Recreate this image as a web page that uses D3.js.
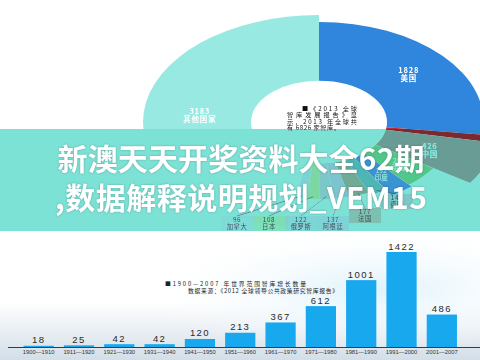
<!DOCTYPE html>
<html>
<head>
<meta charset="utf-8">
<script src="https://cdn.jsdelivr.net/npm/d3@7"></script>
<style>
html, body { margin: 0; padding: 0; background: #fff; }
svg { display: block; font-family: "Noto Sans CJK SC", "Noto Sans", sans-serif; }
</style>
</head>
<body>
<svg id="chart" width="480" height="360"></svg>
<script>
// 2013 年各国智库数量（饼图，顺时针从 12 点开始）
const countries = ["美国", "", "中国", "英国", "印度", "德国", "法国", "阿根廷", "俄罗斯", "日本", "加拿大", "其他国家"];
const thinkTanks = [1828, 70, 426, 287, 192, 144, 177, 137, 122, 108, 96, 3183];

// 1900—2007 年世界范围智库增长数量（柱状图）
const periods = ["1900—1910", "1911—1920", "1921—1930", "1931—1940", "1941—1950", "1951—1960",
                 "1961—1970", "1971—1980", "1981—1990", "1991—2000", "2001—2007"];
const growth = [18, 25, 42, 42, 120, 213, 367, 612, 1001, 1422, 486];

const noteLines = ["■《2013 全球", "智库发展报告》显", "示，2013 年全球共", "有 6826 家智库。"];
const legendLines = ["■1900—2007 年世界范围智库增长数量", "数据来源：《2012 全球领导公共政策研究智库报告》"];
const bannerLines = ["新澳天天开奖资料大全62期", ",数据解释说明规划_VEM15"];

// styles
const sliceColor = ["#2f86dc", "#c3282e", "#6a9c96", "#52c78a", "#3a94d2", "#4db5b4",
                    "#70ab98", "#8cc4d0", "#7cc8c8", "#7bd8a4", "#86d2d8", "#98e9e1"];
const sliceReach = [0.935, 0.95, 1.03, 0.78, 0.8, 0.74, 0.72, 0.72, 0.72, 0.72, 0.72, 1];

const svg = d3.select("#chart");
const defs = svg.append("defs");

defs.append("clipPath").attr("id", "topClip")
  .append("rect").attr("x", 0).attr("y", 0).attr("width", 480).attr("height", 231);

let grad = defs.append("linearGradient").attr("id", "floor")
  .attr("x1", 0).attr("y1", 0).attr("x2", 0).attr("y2", 1);
grad.append("stop").attr("offset", "0.55").attr("stop-color", "#ffffff");
grad.append("stop").attr("offset", "1").attr("stop-color", "#d3dee8");

let glow = defs.append("radialGradient").attr("id", "glow")
  .attr("cx", 0.78).attr("cy", 0.45).attr("r", 0.5);
glow.append("stop").attr("offset", "0").attr("stop-color", "#dff2fb");
glow.append("stop").attr("offset", "1").attr("stop-color", "#ffffff").attr("stop-opacity", 0);

// ---------- 上半部分：饼图 ----------
let cx = 319, cy = 122, R = 176, tilt = 0.608, hole = 68;

function proj(a, r) {
  return [cx + r * Math.sin(a), cy - r * Math.cos(a) * tilt];
}

let pieLayer = svg.append("g").attr("clip-path", "url(#topClip)");
pieLayer.append("rect").attr("width", 480).attr("height", 231).attr("fill", "#fff");

let arcs = d3.pie().sort(null).value(d => d)(thinkTanks);
let arc = d3.arc()
  .innerRadius(hole)
  .outerRadius(d => R * sliceReach[d.index]);

pieLayer.append("g")
  .attr("transform", "translate(" + cx + "," + cy + ") scale(1," + tilt + ")")
  .selectAll("path")
  .data(arcs)
  .enter().append("path")
  .attr("d", arc)
  .attr("fill", (d, i) => sliceColor[i]);

// 大扇区标签
let bigIdx = [0, 2, 11];
bigIdx.forEach(function (i) {
  let d = arcs[i];
  let p = proj((d.startAngle + d.endAngle) / 2, R * 0.68);
  let t = pieLayer.append("text")
    .attr("x", p[0]).attr("y", p[1])
    .attr("text-anchor", "middle")
    .attr("fill", "#fff")
    .attr("font-weight", 700)
    .attr("font-size", 7.5)
    .attr("letter-spacing", 0.8);
  t.append("tspan").attr("x", p[0]).attr("dy", -1).text(thinkTanks[i]);
  t.append("tspan").attr("x", p[0]).attr("dy", 8).text(countries[i]);
});

// 英国、印度：扇区内
[3, 4].forEach(function (i) {
  let d = arcs[i];
  let p = proj((d.startAngle + d.endAngle) / 2, R * 0.6);
  let t = pieLayer.append("text")
    .attr("x", p[0]).attr("y", p[1])
    .attr("text-anchor", "middle")
    .attr("fill", "#e4fbf7")
    .attr("font-size", 6.5);
  t.append("tspan").attr("x", p[0]).attr("dy", -1).text(thinkTanks[i]);
  t.append("tspan").attr("x", p[0]).attr("dy", 7).text(countries[i]);
});

// 小扇区：底部标签 + 引线
let smallIdx = [10, 9, 8, 7, 6, 5];
let labelX = d3.scalePoint().domain(smallIdx).range([237, 397]);
let labelLift = [0, 0, 0, 0, 8, 22];

let leaders = pieLayer.append("g");
smallIdx.forEach(function (i, k) {
  let d = arcs[i];
  let tip = proj((d.startAngle + d.endAngle) / 2, R * sliceReach[i] * 0.97);
  let x = labelX(i), y = 223.5 - labelLift[k];
  leaders.append("line")
    .attr("x1", tip[0]).attr("y1", tip[1])
    .attr("x2", x).attr("y2", y - 7.5)
    .attr("stroke", "#2c5464").attr("stroke-width", 0.6);
  pieLayer.append("rect")
    .attr("x", x - 16).attr("y", y - 7.5)
    .attr("width", 32).attr("height", 15)
    .attr("fill", sliceColor[i]).attr("opacity", 0.75);
  let t = pieLayer.append("text")
    .attr("text-anchor", "middle")
    .attr("fill", "#24515e")
    .attr("font-size", 6.3)
    .attr("letter-spacing", 0.6);
  t.append("tspan").attr("x", x).attr("y", y - 1.5).text(thinkTanks[i]);
  t.append("tspan").attr("x", x).attr("y", y + 5.5).text(countries[i]);
});

// 中心说明文字
let noteX = [302, 287, 287, 287], noteW = [55, 70, 70, 53];
noteLines.forEach(function (s, i) {
  pieLayer.append("text")
    .attr("x", noteX[i]).attr("y", 111 + i * 6.4)
    .attr("font-size", 6.2)
    .attr("fill", "#111")
    .attr("textLength", noteW[i])
    .attr("lengthAdjust", "spacing")
    .text(s);
});

// 横幅
pieLayer.append("rect")
  .attr("x", 0).attr("y", 129).attr("width", 480).attr("height", 102)
  .attr("fill", "#7de2d6")
  .style("mix-blend-mode", "darken");

// ---------- 下半部分：柱状图 ----------
let bottom = svg.append("g");
bottom.append("rect").attr("x", 0).attr("y", 231).attr("width", 480).attr("height", 129).attr("fill", "url(#floor)");
bottom.append("rect").attr("x", 0).attr("y", 231).attr("width", 480).attr("height", 129).attr("fill", "url(#glow)");

let x = d3.scaleBand().domain(periods).range([18.5, 462]).paddingInner(0.25).paddingOuter(0.125);
let y = d3.scaleLinear().domain([0, 1422]).range([347, 252]);

bottom.selectAll(".bar")
  .data(growth)
  .enter().append("rect")
  .attr("class", "bar")
  .attr("x", (d, i) => x(periods[i]))
  .attr("y", d => y(d))
  .attr("width", x.bandwidth())
  .attr("height", d => y(0) - y(d))
  .attr("fill", "#18a8ee");

bottom.selectAll(".val")
  .data(growth)
  .enter().append("text")
  .attr("class", "val")
  .attr("x", (d, i) => x(periods[i]) + x.bandwidth() / 2)
  .attr("y", d => y(d) - 2.5)
  .attr("text-anchor", "middle")
  .attr("font-family", "Liberation Sans, Arial, sans-serif")
  .attr("font-size", 9.5)
  .attr("letter-spacing", 1.4)
  .attr("fill", "#2a2a2a")
  .text(d => d);

let axis = bottom.append("g")
  .attr("transform", "translate(0," + y(0) + ")")
  .call(d3.axisBottom(x).tickSize(0).tickPadding(3));
axis.select(".domain").remove();
axis.selectAll("text")
  .attr("font-family", "Liberation Sans, Arial, sans-serif")
  .attr("font-size", 5.8)
  .attr("fill", "#333");

bottom.append("line")
  .attr("x1", 8).attr("x2", 480)
  .attr("y1", y(0) + 0.5).attr("y2", y(0) + 0.5)
  .attr("stroke", "#3a3a3a").attr("stroke-width", 1);

let legX = [165, 188], legW = [141, 150];
legendLines.forEach(function (s, i) {
  bottom.append("text")
    .attr("x", legX[i]).attr("y", 286 + i * 7)
    .attr("font-size", 5.8)
    .attr("fill", "#222")
    .attr("textLength", legW[i])
    .attr("lengthAdjust", "spacing")
    .text(s);
});

// 横幅文字
let banner = svg.append("g").style("filter", "drop-shadow(0 0 1.2px rgba(0,0,0,0.25))");
bannerLines.forEach(function (s, i) {
  banner.append("text")
    .attr("x", 241).attr("y", 170 + i * 39)
    .attr("text-anchor", "middle")
    .attr("font-size", 30)
    .attr("font-weight", 700)
    .attr("fill", "#fff")
    .attr("textLength", i == 0 ? 367 : 372)
    .attr("lengthAdjust", "spacing")
    .text(s);
});
</script>
</body>
</html>
